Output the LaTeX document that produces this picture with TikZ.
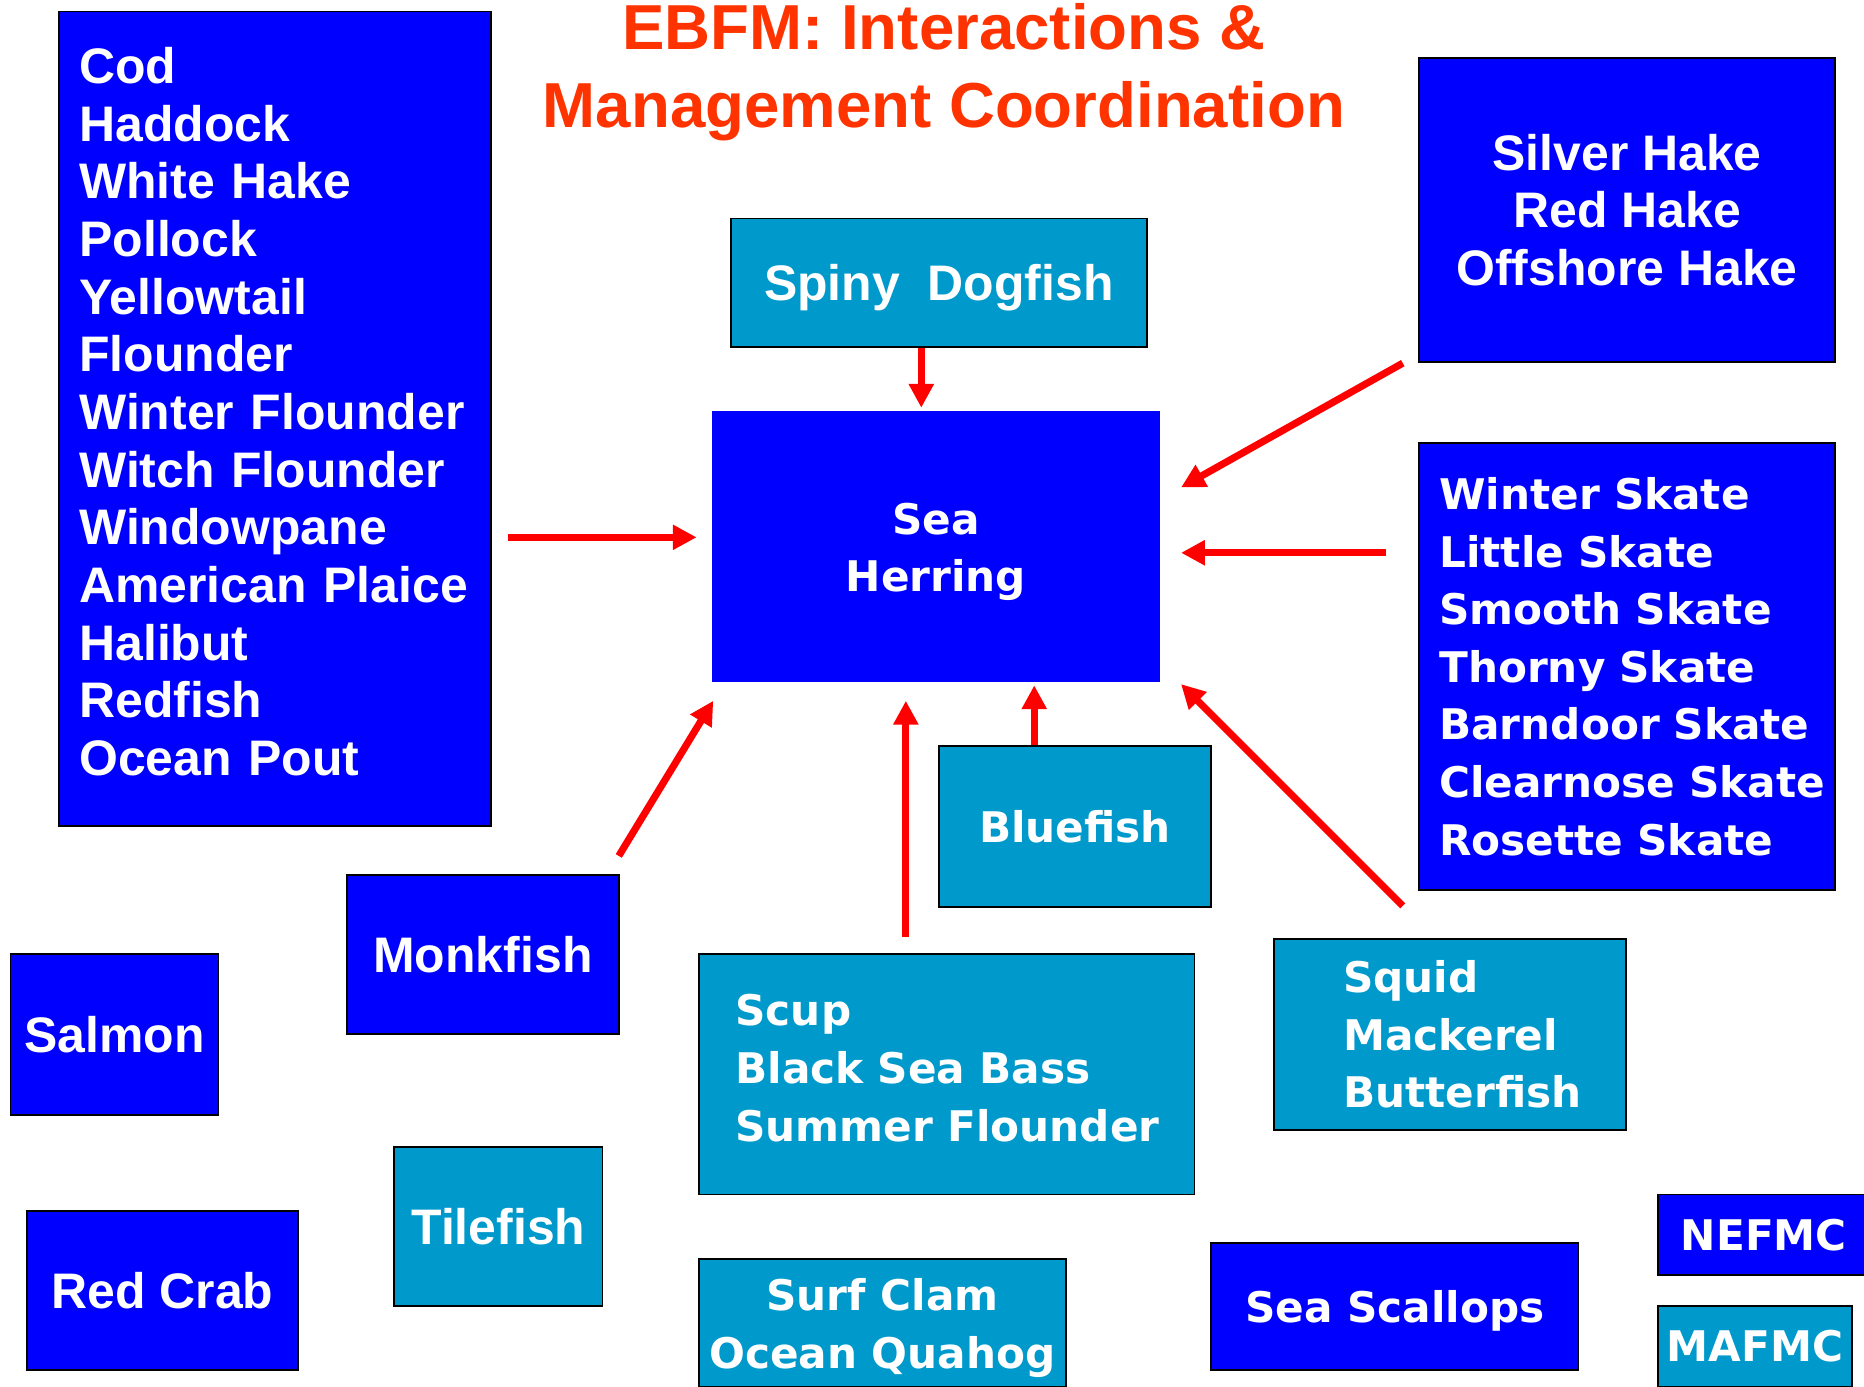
\documentclass[tikz,border=0pt]{standalone}
\usepackage{fontspec}
\setmainfont{Liberation Sans}
\newfontfamily\widefont{DejaVu Sans}
\usetikzlibrary{arrows.meta,calc}

\definecolor{boxblue}{RGB}{0,0,255}
\definecolor{boxteal}{RGB}{0,153,204}
\definecolor{titlered}{RGB}{255,51,0}
\definecolor{arrowred}{RGB}{255,0,0}

\tikzset{
  fishbox/.style={rectangle, draw=black, line width=1.5pt, inner sep=0pt,
    anchor=north west, text=white},
  bluebox/.style={fishbox, fill=boxblue},
  tealbox/.style={fishbox, fill=boxteal},
  narrowtxt/.style={font=\fontsize{42}{48.5}\selectfont\bfseries},
  widetxt/.style={font=\widefont\fontsize{35.5}{48.5}\selectfont\bfseries},
  boxsize/.style 2 args={minimum width=#1pt, minimum height=#2pt},
  leftlist/.style 2 args={align=left, text width=#1pt, inner xsep=#2pt},
  feeds/.style={draw=arrowred, line width=6pt,
    -{Triangle[length=20pt, width=20pt]}},
}

\begin{document}
\begin{tikzpicture}[x=1pt, y=-1pt]
  \useasboundingbox (0,0) rectangle (1568,1166);
  \clip (0,0) rectangle (1568,1166);

  % heading
  \node[text=titlered, font=\fontsize{53.5}{65}\selectfont\bfseries,
        align=center, anchor=base, inner sep=0pt] (title) at (794,107)
        {EBFM: Interactions \&\\Management Coordination};

  % groundfish complex
  \node[bluebox, narrowtxt, boxsize={363}{685}, leftlist={329}{17},
        text height=18.6pt] (cod) at (49,9)
    {Cod\\Haddock\\\mbox{White Hake}\\Pollock\\Yellowtail\\Flounder\\\mbox{Winter Flounder}\\
     \mbox{Witch Flounder}\\Windowpane\\\mbox{American Plaice}\\Halibut\\Redfish\\\mbox{Ocean Pout}};

  % central species
  \node[fishbox, draw=none, fill=boxblue, widetxt, boxsize={377}{228}, align=center,
        text height=84pt] (herring) at (598,345) {Sea\\Herring};

  \node[tealbox, narrowtxt, boxsize={350}{108}, text depth=0pt] (dogfish) at (614,183)
    {Spiny~ Dogfish};

  \node[bluebox, narrowtxt, boxsize={350}{256}, align=center] (silver) at (1193,48)
    {Silver Hake\\Red Hake\\Offshore Hake};

  \node[bluebox, widetxt, boxsize={350}{376}, leftlist={316}{17}] (skates) at (1193,372)
    {\mbox{Winter Skate}\\\mbox{Little Skate}\\\mbox{Smooth Skate}\\\mbox{Thorny Skate}\\
     \mbox{Barndoor Skate}\\\mbox{Clearnose Skate}\\\mbox{Rosette Skate}};

  \node[bluebox, narrowtxt, boxsize={229}{134}] (monk) at (291,735) {Monkfish};
  \node[tealbox, widetxt, boxsize={229}{135}] (bluefish) at (789,627) {Bluefish};

  \node[tealbox, widetxt, boxsize={417}{202}, leftlist={355}{31},
        text height=16pt] (scup) at (587,802)
    {Scup\\\mbox{Black Sea Bass}\\\mbox{Summer Flounder}};

  \node[tealbox, widetxt, boxsize={296}{161}, leftlist={180}{58}] (squid) at (1071,789)
    {Squid\\\mbox{Mackerel}\\\mbox{Butterfish}};

  % unconnected fisheries
  \node[bluebox, narrowtxt, boxsize={175}{135}] (salmon) at (8,802) {Salmon};
  \node[tealbox, narrowtxt, boxsize={175}{134}] (tile) at (331,964) {Tilefish};
  \node[bluebox, narrowtxt, boxsize={228}{134}] (redcrab) at (22,1018) {Red Crab};
  \node[tealbox, widetxt, boxsize={309}{108}, align=center, text height=84pt]
    (surf) at (587,1058) {Surf Clam\\Ocean Quahog};
  \node[bluebox, widetxt, boxsize={309}{107}, text depth=0pt] (scallops) at (1018,1045)
    {Sea Scallops};

  % councils
  \node[bluebox, widetxt, boxsize={178}{68}] (nefmc) at (1394,1004) {NEFMC};
  \node[tealbox, widetxt, boxsize={163}{68}] (mafmc) at (1394,1098) {MAFMC};

  % interactions with sea herring
  \draw[feeds] ($(cod.north east)+(14,443)$) -- ($(herring.north west)+(-12,107)$);
  \draw[feeds] ($(dogfish.south west)+(161,0)$) -- ($(herring.north west)+(177,-2)$);
  \draw[feeds] ($(silver.south west)+(-13,0)$) -- ($(herring.north east)+(17,65)$);
  \draw[feeds] ($(skates.north west)+(-27,93)$) -- ($(herring.north east)+(17,120)$);
  \draw[feeds] ($(monk.north east)+(-1,-15)$) -- ($(herring.south west)+(2,15)$);
  \draw[feeds] ($(scup.north west)+(175,-14)$) -- ($(herring.south west)+(164,15)$);
  \draw[feeds] ($(bluefish.north west)+(81,0)$) -- ($(herring.south west)+(272,2)$);
  \draw[feeds] ($(squid.north west)+(109,-27)$) -- ($(herring.south east)+(17,1)$);
\end{tikzpicture}
\end{document}
